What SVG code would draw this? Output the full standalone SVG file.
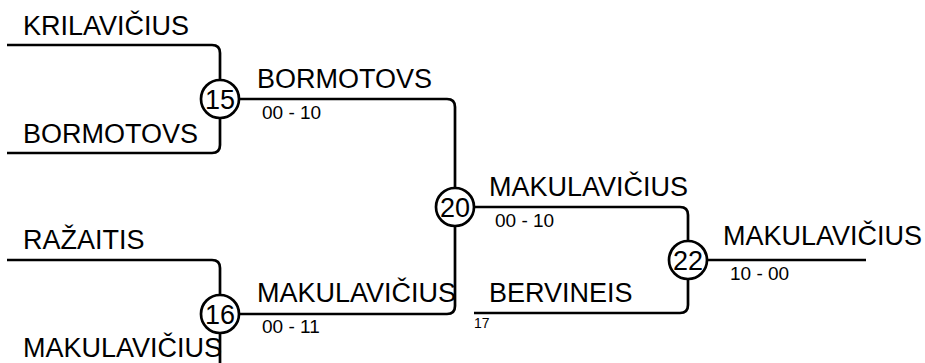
<svg xmlns="http://www.w3.org/2000/svg" width="925" height="363" viewBox="0 0 925 363">
<style>
.ln{fill:none;stroke:#000;stroke-width:2.7}
.nd{fill:#fff;stroke:#000;stroke-width:2.7}
.nm{font-family:"Liberation Sans",Arial,sans-serif;font-size:27px;fill:#000}
.sc{font-family:"Liberation Sans",Arial,sans-serif;font-size:19px;fill:#000}
.sm{font-family:"Liberation Sans",Arial,sans-serif;font-size:14px;fill:#000}
.num{font-family:"Liberation Sans",Arial,sans-serif;font-size:27px;fill:#000;text-anchor:middle}
</style>
<rect width="925" height="363" fill="#fff"/>
<g id="connectors">
<path class="ln" d="M7,45 H212 Q220,45 220,53 V99"/>
<path class="ln" d="M7,153 H212 Q220,153 220,145 V99"/>
<path class="ln" d="M7,260 H212 Q220,260 220,268 V314"/>
<path class="ln" d="M220,314 V372"/>
<path class="ln" d="M220,99 H447 Q455,99 455,107 V207"/>
<path class="ln" d="M220,314 H447 Q455,314 455,306 V207"/>
<path class="ln" d="M455,207 H680 Q688,207 688,215 V260"/>
<path class="ln" d="M474,313 H680 Q688,313 688,305 V260"/>
<path class="ln" d="M688,260 H866"/>
</g>
<g id="labels">
<text class="nm" x="23" y="35">KRILAVIČIUS</text>
<text class="nm" x="23" y="143">BORMOTOVS</text>
<text class="nm" x="23" y="249">RAŽAITIS</text>
<text class="nm" x="23" y="357">MAKULAVIČIUS</text>
<text class="nm" x="257" y="88">BORMOTOVS</text>
<text class="sc" x="262" y="119">00 - 10</text>
<text class="nm" x="257" y="302">MAKULAVIČIUS</text>
<text class="sc" x="262" y="333">00 - 11</text>
<text class="nm" x="489" y="196">MAKULAVIČIUS</text>
<text class="sc" x="495" y="227">00 - 10</text>
<text class="nm" x="489" y="302">BERVINEIS</text>
<text class="sm" x="474" y="328">17</text>
<text class="nm" x="723" y="245">MAKULAVIČIUS</text>
<text class="sc" x="730" y="280">10 - 00</text>
</g>
<g id="node15"><circle class="nd" cx="220" cy="99" r="19"/><text class="num" x="220" y="108.5">15</text></g>
<g id="node16"><circle class="nd" cx="220" cy="314" r="19"/><text class="num" x="220" y="323.5">16</text></g>
<g id="node20"><circle class="nd" cx="455" cy="207" r="19"/><text class="num" x="455" y="216.5">20</text></g>
<g id="node22"><circle class="nd" cx="688" cy="260" r="19"/><text class="num" x="688" y="269.5">22</text></g>
</svg>
